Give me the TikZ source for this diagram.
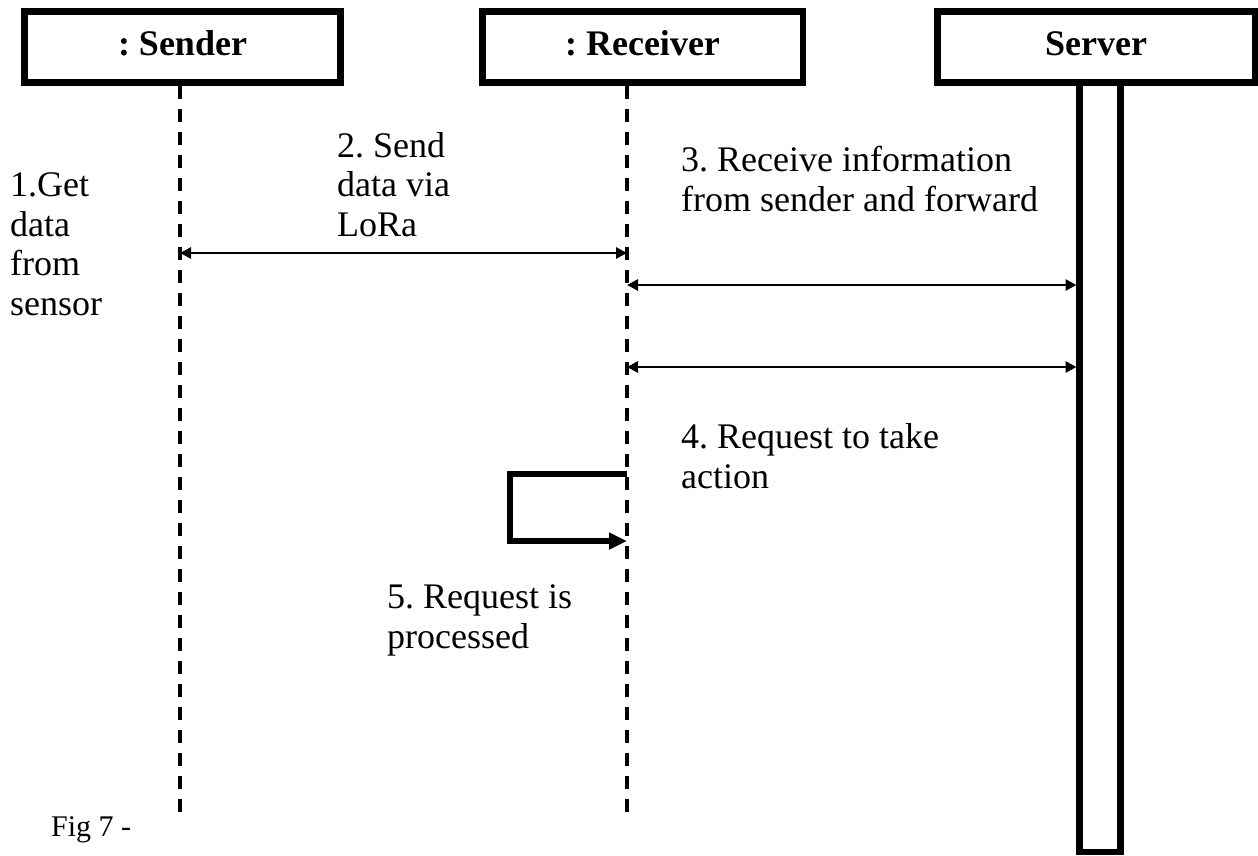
\documentclass[tikz,border=0pt]{standalone}
\usepackage{fontspec}
\setmainfont{Liberation Serif}
\usetikzlibrary{arrows.meta}
\begin{document}
\frenchspacing
\begin{tikzpicture}[x=1pt,y=-1pt,
  objbox/.style={draw,line width=6.5pt,fill=white,inner sep=0pt,
    minimum height=71pt,text depth=7pt,
    font=\fontsize{36}{40}\selectfont\bfseries},
  lifeline/.style={line width=3.5pt,dash pattern=on 13pt off 10pt},
  msg/.style={line width=2.8pt,
    {Triangle[length=11pt,width=11pt]}-{Triangle[length=11pt,width=11pt]}},
  selfmsg/.style={line width=6.5pt,line join=miter,
    -{Triangle[length=18pt,width=16pt]}},
  note/.style={anchor=base west,inner sep=0pt,align=left,
    font=\fontsize{36}{39.5}\selectfont},
  caption/.style={anchor=base west,inner sep=0pt,
    font=\fontsize{30}{34}\selectfont}]
\useasboundingbox (0,0) rectangle (1258,855);

% participants
\node[objbox,minimum width=316pt] (snd) at (182.5,47) {: Sender};
\node[objbox,minimum width=320.5pt] (rcv) at (642.5,47) {: Receiver};
\node[objbox,minimum width=317.5pt] (srv) at (1096,47) {Server};

% server activation bar
\node[draw,line width=6.5pt,inner sep=0pt,minimum width=41pt,
  minimum height=769.5pt] (bar) at (1100,467.25) {};

% lifelines
\coordinate (sndtop) at (180,86);
\coordinate (sndend) at (180,820);
\coordinate (rcvtop) at (627,86);
\coordinate (rcvend) at (627,820);
\draw[lifeline] (sndtop) -- (sndend);
\draw[lifeline] (rcvtop) -- (rcvend);

% messages
\coordinate (m2a) at (180,253);
\coordinate (m2b) at (627,253);
\draw[msg] (m2a) -- (m2b);

\coordinate (m3a) at (627,285);
\coordinate (m3b) at (1076.5,285);
\draw[msg] (m3a) -- (m3b);

\coordinate (m4a) at (627,367);
\coordinate (m4b) at (1076.5,367);
\draw[msg] (m4a) -- (m4b);

% self call on the receiver
\coordinate (s5a) at (627,474);
\coordinate (s5b) at (627,541);
\draw[selfmsg] (s5a) -- (510,474) -- (510,541) -- (s5b);

% labels (anchored at the baseline of their last line)
\node[note] (t1) at (10,315) {1.Get\\data\\from\\sensor};
\node[note] (t2) at (337,236) {2. Send\\data via\\LoRa};
\node[note] (t3) at (681,211) {3. Receive information\\from sender and forward};
\node[note] (t4) at (681,488) {4. Request to take\\action};
\node[note] (t5) at (387,648) {5. Request is\\processed};
\node[caption] (fig) at (51,836) {Fig 7 -};
\end{tikzpicture}
\end{document}
